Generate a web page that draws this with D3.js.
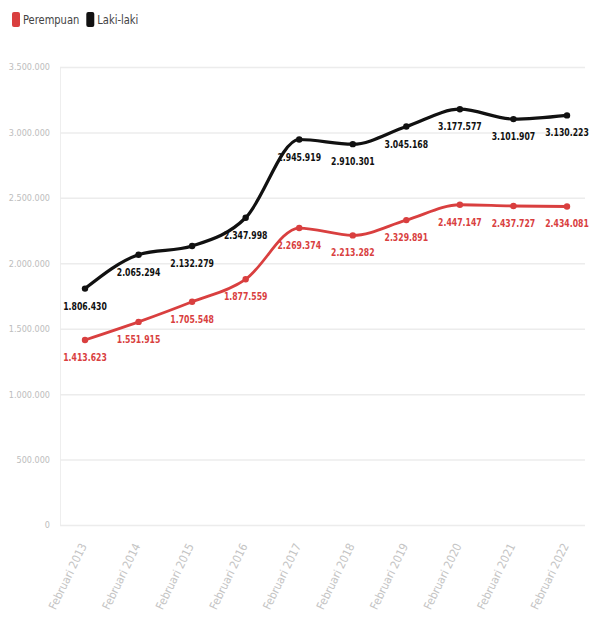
<!DOCTYPE html>
<html><head><meta charset="utf-8">
<script src="https://cdn.jsdelivr.net/npm/d3@7"></script>
<style>body{margin:0;background:#fff;} svg{display:block;}</style>
</head><body>
<svg id="c" width="591" height="618"></svg>
<script>
const categories = ["Februari 2013","Februari 2014","Februari 2015","Februari 2016","Februari 2017","Februari 2018","Februari 2019","Februari 2020","Februari 2021","Februari 2022"];
const perempuan = [1413623,1551915,1705548,1877559,2269374,2213282,2329891,2447147,2437727,2434081];
const lakiLaki = [1806430,2065294,2132279,2347998,2945919,2910301,3045168,3177577,3101907,3130223];
const yTicks = [0,500000,1000000,1500000,2000000,2500000,3000000,3500000];
const seriesNames = ["Perempuan","Laki-laki"];
const colors = ["#d93f3f","#111111"];

const cond = "'DejaVu Sans Condensed','DejaVu Sans',sans-serif";
const svg = d3.select("#c");
const fmt = v => d3.format(",")(v).replace(/,/g,".");
const x = d3.scalePoint().domain(categories).range([85,567]);
const y = d3.scaleLinear().domain([0,3500000]).range([525,67]);

// grid
const yAxis = d3.axisLeft(y).tickValues(yTicks).tickFormat(fmt).tickSize(-525).tickPadding(10);
const ga = svg.append("g").attr("transform","translate(60,0)").call(yAxis);
ga.select(".domain").attr("stroke","#eeeeee");
ga.selectAll(".tick line").attr("stroke","#ececec").attr("stroke-width",1.5);
ga.selectAll(".tick text").attr("fill","#bdbdbd").style("font-family",cond).style("font-size","9px");

// x axis labels
const xAxis = d3.axisBottom(x).tickSize(0).tickPadding(0);
const gx = svg.append("g").attr("transform","translate(0,540)").call(xAxis);
gx.select(".domain").remove();
gx.selectAll(".tick text")
  .attr("fill","#c4c4c4")
  .style("font-family",cond)
  .style("font-size","11.5px")
  .attr("text-anchor","end")
  .attr("dy","0.35em")
  .attr("transform","translate(-2,4) rotate(-64)");

// lines
const seriesData = [perempuan, lakiLaki];
const widths = [2.8, 3.2];
const line = d3.line().x((d,i)=>x(categories[i])).y(d=>y(d)).curve(d3.curveMonotoneX);
seriesData.forEach((s,k)=>{
  svg.append("path").datum(s).attr("d",line).attr("fill","none")
    .attr("stroke",colors[k]).attr("stroke-width",widths[k]);
  svg.selectAll(null).data(s).enter().append("circle")
    .attr("cx",(d,i)=>x(categories[i])).attr("cy",d=>y(d)).attr("r",3.2)
    .attr("fill",colors[k]);
  svg.selectAll(null).data(s).enter().append("text")
    .attr("transform",(d,i)=>`translate(${x(categories[i])},${y(d)+21}) scale(0.82,1)`)
    .attr("text-anchor","middle")
    .attr("fill",colors[k])
    .style("font-family",cond)
    .style("font-weight","bold").style("font-size","10.5px")
    .text(d=>fmt(d));
});

// legend
const lg = svg.append("g").attr("transform","translate(12,12)");
let lx = 0;
seriesNames.forEach((n,k)=>{
  lg.append("rect").attr("x",lx).attr("y",0).attr("width",8).attr("height",15).attr("rx",2).attr("fill",colors[k]);
  const t = lg.append("text").attr("transform",`translate(${lx+11},12) scale(0.85,1)`).attr("fill","#444")
    .style("font-family",cond).style("font-size","13px").text(n);
  lx += 11 + t.node().getComputedTextLength()*0.85 + 7;
});
</script>
</body></html>
